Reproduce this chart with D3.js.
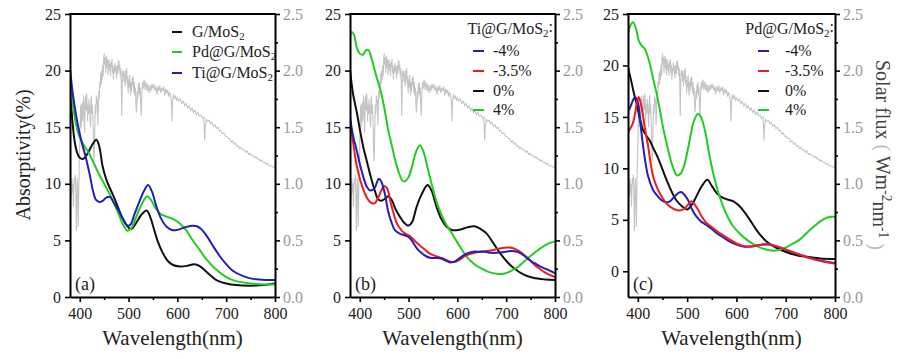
<!DOCTYPE html>
<html><head><meta charset="utf-8">
<script src="https://cdn.jsdelivr.net/npm/d3@7/dist/d3.min.js"></script>
<style>body{margin:0;background:#fff}svg{display:block}svg text{font-family:"Liberation Serif","Times New Roman",serif}</style>
</head><body><svg id="c" width="922" height="359"></svg>
<script>
const waveTicks = [400,500,600,700,800];
const waveMinor = [450,550,650,750];
const absTicks = [0,5,10,15,20,25];
const fluxTicks = [0,0.5,1.0,1.5,2.0,2.5];
const fluxMinor = [0.25,0.75,1.25,1.75,2.25];

const solarFlux = [
[380,0.95],[381,0.72],[382,1.02],[383,0.88],[384,1.05],[385,0.92],[386,1.0],[387,0.8],[388,0.95],[389,1.05],[390,1.0],[391,1.08],[392,0.9],[393,0.58],[394,0.85],[395,1.05],[396,0.9],[397,0.62],[398,0.95],[399,1.2],[400,1.35],[401,1.55],[402,1.7],[403,1.5],[404,1.62],[405,1.72],[406,1.55],[407,1.68],[408,1.78],[409,1.6],[410,1.45],[411,1.7],[412,1.78],[413,1.65],[414,1.8],[415,1.72],[416,1.55],[417,1.7],[418,1.62],[419,1.75],[420,1.68],[421,1.6],[422,1.5],[423,1.72],[424,1.78],[425,1.62],[426,1.7],[427,1.55],[428,1.4],[429,1.2],[430,1.28],[431,1.55],[432,1.7],[433,1.62],[434,1.78],[435,1.7],[436,1.75],[437,1.52],[438,1.68],[439,1.82],[440,1.75],[441,1.9],[442,1.85],[443,1.98],[444,1.88],[445,2.0],[446,1.92],[447,2.05],[448,1.95],[449,2.1],[450,2.15],[451,2.05],[452,2.12],[453,1.98],[454,2.08],[455,2.13],[456,2.02],[457,2.1],[458,1.96],[459,2.05],[460,2.1],[461,2.0],[462,2.06],[463,1.95],[464,2.08],[465,2.03],[466,2.1],[467,1.98],[468,2.05],[469,1.92],[470,2.02],[471,1.98],[472,2.07],[473,2.0],[474,2.04],[475,1.93],[476,2.0],[477,2.05],[478,1.97],[479,2.07],[480,2.09],[481,2.0],[482,2.05],[483,1.95],[484,2.02],[485,1.9],[486,1.6],[487,1.88],[488,2.0],[489,1.95],[490,2.0],[491,1.9],[492,1.97],[493,1.86],[494,2.0],[495,1.93],[496,2.02],[497,1.88],[498,1.95],[499,1.8],[500,1.92],[501,1.85],[502,1.96],[503,1.88],[504,1.78],[505,1.9],[506,1.82],[507,1.93],[508,1.86],[509,1.95],[510,1.88],[511,1.8],[512,1.9],[513,1.78],[514,1.85],[515,1.7],[516,1.63],[517,1.72],[518,1.82],[519,1.75],[520,1.88],[521,1.8],[522,1.9],[523,1.78],[524,1.85],[525,1.68],[526,1.6],[527,1.75],[528,1.85],[529,1.9],[530,1.84],[532,1.92],[534,1.83],[536,1.9],[538,1.82],[540,1.88],[542,1.8],[544,1.87],[546,1.82],[548,1.88],[550,1.84],[552,1.88],[554,1.82],[556,1.86],[558,1.79],[560,1.86],[562,1.82],[564,1.87],[566,1.8],[568,1.85],[570,1.82],[572,1.86],[574,1.78],[576,1.84],[578,1.8],[580,1.83],[582,1.77],[584,1.81],[586,1.78],[588,1.7],[589,1.55],[590,1.72],[592,1.79],[594,1.75],[596,1.78],[598,1.74],
[600,1.76],[603,1.73],[606,1.75],[609,1.71],[612,1.73],[615,1.69],[618,1.71],[621,1.67],[624,1.69],[627,1.65],[630,1.67],[633,1.63],[636,1.65],[639,1.61],[642,1.63],[645,1.6],[648,1.61],[651,1.58],[654,1.59],[655,1.5],[656,1.38],[657,1.5],[659,1.57],[662,1.55],[665,1.56],[668,1.53],[671,1.54],[674,1.51],[677,1.52],[680,1.49],[683,1.5],[686,1.47],[689,1.47],[692,1.44],[695,1.45],[698,1.42],[701,1.42],[704,1.4],[707,1.4],[710,1.37],[713,1.38],[716,1.35],[719,1.36],[722,1.33],[725,1.34],[728,1.31],[731,1.32],[734,1.3],[737,1.3],[740,1.28],[743,1.29],[746,1.26],[749,1.27],[752,1.25],[755,1.25],[758,1.23],[761,1.24],[764,1.22],[767,1.22],[770,1.2],[773,1.21],[776,1.19],[779,1.19],[782,1.17],[785,1.18],[788,1.16],[791,1.16],[794,1.15],[797,1.15],[800,1.14]
];

// Panel (a)
const aGMoS2 = [[380,18.5],[385,15.5],[390,13.6],[395,12.7],[400,12.3],[407,12.2],[415,12.6],[425,13.4],[434,13.9],[440,13.3],[447,11.5],[455,10.3],[465,9.3],[475,8.3],[485,7.2],[495,6.4],[505,6.0],[515,6.5],[525,7.2],[537,7.65],[545,7.0],[552,6.0],[560,4.9],[570,3.9],[580,3.2],[590,2.85],[605,2.7],[620,2.75],[635,2.9],[645,2.75],[655,2.4],[668,1.9],[680,1.5],[700,1.2],[720,1.05],[750,1.0],[775,1.05],[800,1.2]];
const aPdGMoS2 = [[380,19.3],[385,17.3],[390,15.8],[396,14.6],[403,13.8],[410,13.3],[420,12.6],[430,11.7],[440,10.8],[450,10.0],[460,9.2],[470,8.3],[480,7.3],[490,6.3],[498,5.85],[506,6.1],[515,7.0],[527,8.2],[538,8.9],[547,8.5],[556,7.8],[565,7.35],[578,7.1],[591,6.9],[605,6.5],[618,5.9],[630,5.1],[645,4.2],[660,3.3],[680,2.4],[700,1.75],[720,1.4],[750,1.2],[780,1.1],[800,1.1]];
const aTiGMoS2 = [[380,20.2],[385,18.2],[390,16.7],[397,15.0],[405,13.5],[412,12.4],[420,10.9],[427,9.4],[433,8.6],[440,8.4],[447,8.5],[455,8.8],[462,8.85],[470,8.3],[480,7.6],[490,6.8],[498,6.3],[504,6.4],[512,7.3],[522,8.4],[532,9.4],[540,9.9],[548,9.3],[557,8.0],[567,6.9],[578,6.2],[590,5.9],[602,5.95],[615,6.15],[630,6.3],[640,6.25],[650,5.95],[660,5.4],[673,4.5],[687,3.6],[700,2.9],[714,2.3],[735,1.85],[755,1.6],[780,1.5],[800,1.5]];

// Panel (b) Ti@G/MoS2 strain
const bTiM4 = [[380,15.9],[386,14.3],[394,12.9],[401,11.6],[408,10.5],[415,9.7],[422,9.4],[430,9.6],[435,10.1],[439,10.45],[444,10.2],[451,9.2],[458,7.6],[465,6.6],[472,5.9],[482,5.6],[492,5.45],[500,5.3],[508,4.9],[517,4.3],[526,3.9],[536,3.6],[546,3.45],[557,3.45],[567,3.4],[577,3.2],[587,3.05],[597,3.2],[608,3.55],[620,3.85],[632,4.0],[645,4.0],[656,4.0],[668,3.9],[680,3.9],[693,3.95],[705,4.05],[717,4.05],[728,3.9],[738,3.6],[750,3.2],[762,2.9],[775,2.6],[788,2.35],[800,2.1]];
const bTiM35 = [[380,15.6],[386,13.8],[392,12.0],[398,10.8],[404,9.9],[410,9.2],[417,8.6],[424,8.3],[431,8.3],[438,8.8],[444,9.4],[450,9.8],[456,9.6],[462,8.6],[468,7.6],[476,6.5],[485,5.9],[493,5.6],[502,5.4],[512,5.0],[522,4.6],[533,4.2],[543,3.85],[553,3.65],[564,3.5],[574,3.35],[584,3.15],[594,3.1],[605,3.3],[615,3.6],[625,3.8],[635,3.9],[646,4.0],[656,4.05],[668,4.1],[683,4.25],[697,4.35],[710,4.35],[720,4.2],[730,3.95],[740,3.6],[752,3.1],[765,2.6],[780,2.15],[800,1.75]];
const bTi0 = [[380,20.1],[386,18.0],[394,16.3],[401,14.6],[408,13.1],[415,11.9],[422,10.7],[430,9.5],[437,8.7],[444,8.5],[452,8.7],[458,8.9],[465,8.6],[473,7.8],[482,7.1],[490,6.6],[499,6.3],[507,6.6],[516,7.9],[526,9.0],[539,9.9],[547,9.4],[557,8.0],[567,6.9],[578,6.2],[590,5.9],[605,5.95],[620,6.15],[635,6.25],[648,6.0],[660,5.6],[673,4.8],[687,3.9],[700,3.2],[714,2.6],[735,2.0],[755,1.7],[780,1.55],[800,1.5]];
const bTi4 = [[380,22.9],[383,23.4],[388,23.2],[394,22.0],[400,21.5],[406,21.4],[413,21.8],[418,21.8],[424,21.1],[432,19.8],[444,18.0],[452,16.3],[458,14.8],[465,13.5],[472,12.2],[480,11.0],[487,10.3],[492,10.2],[500,10.6],[507,11.5],[515,12.8],[523,13.4],[530,12.9],[538,11.6],[546,10.2],[556,8.6],[566,7.4],[576,6.5],[586,5.8],[596,5.1],[606,4.4],[620,3.5],[635,2.9],[650,2.5],[665,2.2],[680,2.05],[695,2.05],[710,2.3],[725,2.7],[741,3.3],[755,3.8],[770,4.3],[785,4.7],[800,4.9]];

// Panel (c) Pd@G/MoS2 strain
const cPdM4 = [[380,15.5],[385,16.0],[390,16.6],[394,16.9],[399,16.6],[404,15.0],[407,13.6],[410,12.4],[415,10.7],[421,9.2],[431,7.9],[440,7.3],[448,6.9],[456,6.7],[465,6.8],[473,7.2],[482,7.6],[488,7.7],[495,7.4],[502,6.9],[510,6.0],[519,5.3],[529,4.8],[539,4.5],[550,4.1],[560,3.7],[573,3.3],[586,2.9],[600,2.6],[614,2.4],[627,2.4],[641,2.5],[654,2.6],[665,2.6],[677,2.45],[688,2.3],[708,1.95],[729,1.6],[750,1.3],[775,1.0],[800,0.8]];
const cPdM35 = [[380,13.5],[385,13.9],[390,14.4],[395,15.5],[399,16.6],[402,16.9],[406,16.3],[410,15.3],[415,13.7],[421,12.1],[426,10.5],[431,9.2],[440,8.0],[448,7.3],[456,6.7],[465,6.3],[475,6.0],[485,5.9],[495,6.1],[502,6.5],[509,6.8],[515,6.5],[522,6.0],[530,5.3],[539,4.7],[550,4.3],[560,3.9],[573,3.5],[586,3.1],[600,2.7],[614,2.45],[627,2.4],[641,2.5],[654,2.6],[668,2.6],[680,2.45],[695,2.2],[712,1.9],[729,1.6],[750,1.25],[775,0.95],[800,0.75]];
const cPd0 = [[380,19.8],[386,18.6],[392,17.3],[397,16.4],[403,15.0],[410,13.8],[417,13.2],[424,12.7],[432,11.9],[441,11.0],[450,9.9],[458,8.9],[468,7.8],[478,6.9],[490,6.3],[500,6.0],[510,6.5],[519,7.3],[530,8.3],[541,8.9],[550,8.3],[560,7.6],[570,7.2],[580,7.0],[594,6.8],[607,6.3],[620,5.5],[634,4.5],[647,3.6],[661,2.9],[680,2.3],[702,1.85],[722,1.55],[742,1.4],[770,1.25],[800,1.2]];
const cPd4 = [[380,23.1],[384,23.8],[390,24.2],[396,23.6],[402,22.4],[408,21.9],[414,21.6],[420,20.9],[426,19.8],[432,18.5],[438,17.3],[445,15.6],[451,14.0],[458,12.5],[465,11.1],[472,10.0],[480,9.3],[487,9.5],[494,10.3],[500,11.5],[507,13.2],[513,14.5],[522,15.3],[528,15.0],[536,13.7],[544,11.6],[553,9.5],[563,7.7],[573,6.3],[583,5.2],[593,4.4],[606,3.7],[620,3.1],[634,2.65],[648,2.3],[662,2.1],[675,2.0],[688,2.1],[702,2.35],[715,2.7],[729,3.1],[742,3.7],[756,4.3],[770,4.85],[783,5.2],[792,5.3],[800,5.3]];

const legendA = ["G/MoS|2", "Pd@G/MoS|2", "Ti@G/MoS|2"];
const legendTitleB = "Ti@G/MoS|2|:";
const legendTitleC = "Pd@G/MoS|2|:";
const strainLabels = ["-4%", "-3.5%", "0%", "4%"];

const COL = {black:"#111111", green:"#22cc22", blue:"#2020b8", red:"#ee1c1c", gray:"#c4c4c4"};

const svg = d3.select("#c");
const TOP = 14, BOT = 297;

const panels = [
  {x0:70, x1:275, dom:[0,25], label:"(a)",
   series:[{d:aGMoS2,c:COL.black},{d:aPdGMoS2,c:COL.green},{d:aTiGMoS2,c:COL.blue}]},
  {x0:350, x1:555, dom:[0,25], label:"(b)",
   series:[{d:bTi0,c:COL.black},{d:bTi4,c:COL.green},{d:bTiM35,c:COL.red},{d:bTiM4,c:COL.blue}]},
  {x0:628, x1:835, dom:[-2.5,25], label:"(c)",
   series:[{d:cPd0,c:COL.black},{d:cPd4,c:COL.green},{d:cPdM4,c:COL.blue},{d:cPdM35,c:COL.red}]}
];

function subText(sel, str){
  const parts = str.split("|");
  parts.forEach((p,i)=>{
    const t = sel.append("tspan").text(p);
    if(i===1){ t.attr("font-size","0.68em").attr("dy","0.3em"); }
    if(i===2){ t.attr("dy","-0.3em"); }
  });
}

panels.forEach((P,pi)=>{
  const x = d3.scaleLinear().domain([380,800]).range([P.x0,P.x1]);
  const y = d3.scaleLinear().domain(P.dom).range([BOT,TOP]);
  const y2 = d3.scaleLinear().domain([0,2.5]).range([BOT,TOP]);
  const g = svg.append("g");
  const cid = "clip"+pi;
  g.append("clipPath").attr("id",cid).append("rect")
    .attr("x",P.x0).attr("y",TOP).attr("width",P.x1-P.x0).attr("height",BOT-TOP);

  const plot = g.append("g").attr("clip-path",`url(#${cid})`);
  plot.append("path").datum(solarFlux)
    .attr("d", d3.line().x(d=>x(d[0])).y(d=>y2(d[1])))
    .attr("fill","none").attr("stroke",COL.gray).attr("stroke-width",1.1);
  const line = d3.line().x(d=>x(d[0])).y(d=>y(d[1])).curve(d3.curveCatmullRom.alpha(0.5));
  P.series.forEach(s=>{
    plot.append("path").datum(s.d).attr("d",line)
      .attr("fill","none").attr("stroke",s.c).attr("stroke-width",2);
  });

  const styleAxis = (ax, col, fs) => {
    ax.attr("font-family",null);
    ax.select(".domain").attr("stroke","#000").attr("stroke-width",2);
    ax.selectAll(".tick line").attr("stroke","#000").attr("stroke-width",1.6);
    ax.selectAll("text").attr("fill",col).attr("font-size",fs);
  };
  const bx = g.append("g").attr("transform",`translate(0,${BOT})`)
    .call(d3.axisBottom(x).tickValues(waveTicks).tickSize(5).tickSizeOuter(0).tickPadding(6));
  styleAxis(bx,"#222",16);
  g.append("g").attr("transform",`translate(0,${BOT})`)
    .call(d3.axisBottom(x).tickValues(waveMinor).tickSize(3).tickFormat(""))
    .call(a=>{a.select(".domain").remove(); a.selectAll(".tick line").attr("stroke","#000").attr("stroke-width",1.6);});

  const ly = g.append("g").attr("transform",`translate(${P.x0},0)`)
    .call(d3.axisLeft(y).tickValues(absTicks).tickSize(5).tickSizeOuter(0).tickPadding(4));
  styleAxis(ly,"#222",16);

  const ry = g.append("g").attr("transform",`translate(${P.x1},0)`)
    .call(d3.axisRight(y2).tickValues(fluxTicks).tickSize(5).tickSizeOuter(0).tickPadding(3).tickFormat(d3.format(".1f")));
  styleAxis(ry,"#9a9a9a",16);
  g.append("g").attr("transform",`translate(${P.x1},0)`)
    .call(d3.axisRight(y2).tickValues(fluxMinor).tickSize(3).tickFormat(""))
    .call(a=>{a.select(".domain").remove(); a.selectAll(".tick line").attr("stroke","#000").attr("stroke-width",1.6);});

  g.append("line").attr("x1",P.x0-1).attr("x2",P.x1+1).attr("y1",TOP).attr("y2",TOP)
    .attr("stroke","#000").attr("stroke-width",2);

  g.append("text").attr("x",(P.x0+P.x1)/2).attr("y",345).attr("text-anchor","middle")
    .attr("font-size",21).attr("fill","#222").text("Wavelength(nm)");

  g.append("text").attr("x",P.x0+5).attr("y",290)
    .attr("font-size",18).attr("fill","#222").text(P.label);
});

svg.append("text").attr("transform","translate(30,155) rotate(-90)").attr("text-anchor","middle")
  .attr("font-size",20).attr("fill","#222").text("Absorptivity(%)");

const rt = svg.append("text").attr("transform","translate(876,155) rotate(90)").attr("text-anchor","middle")
  .attr("font-size",20).attr("fill","#444");
rt.append("tspan").text("Solar flux ");
rt.append("tspan").attr("fill","#bbb").text("( ");
rt.append("tspan").text("Wm");
rt.append("tspan").attr("font-size","0.68em").attr("dy","-0.45em").text("-2");
rt.append("tspan").attr("dy","0.45em").text("nm");
rt.append("tspan").attr("font-size","0.68em").attr("dy","-0.45em").text("-1");
rt.append("tspan").attr("dy","0.45em").attr("fill","#bbb").text(" )");

const legA = svg.append("g");
[COL.black, COL.green, COL.blue].forEach((c,i)=>{
  const yy = [32,52,73][i];
  legA.append("line").attr("x1",172).attr("x2",182).attr("y1",yy).attr("y2",yy).attr("stroke",c).attr("stroke-width",2);
  const t = legA.append("text").attr("x",192).attr("y",yy+5).attr("font-size",16).attr("fill","#222");
  subText(t, legendA[i]);
});

function strainLegend(titleStr, titleRight, lx, tx, cols){
  const lg = svg.append("g");
  const tt = lg.append("text").attr("x",titleRight).attr("y",34).attr("text-anchor","end")
    .attr("font-size",16).attr("fill","#222");
  subText(tt, titleStr);
  strainLabels.forEach((s,i)=>{
    const yy = [51,71,91,110][i];
    lg.append("line").attr("x1",lx).attr("x2",lx+11).attr("y1",yy).attr("y2",yy).attr("stroke",cols[i]).attr("stroke-width",2);
    lg.append("text").attr("x",tx).attr("y",yy+5).attr("font-size",16).attr("fill","#222").text(s);
  });
}
strainLegend(legendTitleB, 553, 473, 493, [COL.blue, COL.red, COL.black, COL.green]);
strainLegend(legendTitleC, 834, 758, 785, [COL.blue, COL.red, COL.black, COL.green]);
</script></body></html>
